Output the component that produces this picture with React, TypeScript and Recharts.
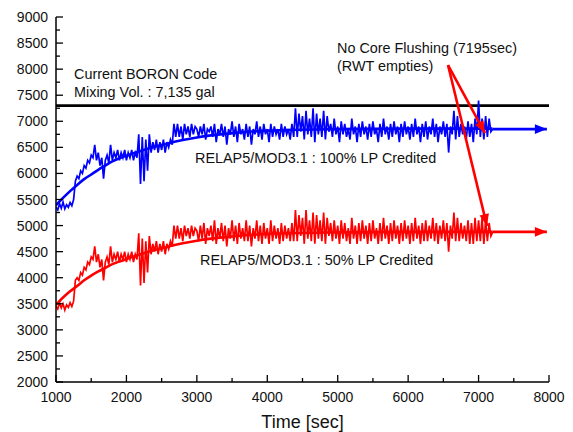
import React from 'react';
import { LineChart, Line, XAxis, YAxis, ReferenceLine, ReferenceDot } from 'recharts';

const T0 = 1000;
const DT = 25;

const blueNoisy = [
  5350, 5300, 5420, 5330, 5450, 5320, 5400, 5350, 5440, 5380,
  5500, 5850, 5950, 5900, 6050, 6000, 6150, 6100, 6250, 6200,
  6350, 6300, 6550, 6250, 6400, 6150, 6300, 5900, 6250, 6350,
  6200, 6550, 6250, 6400, 6300, 6450, 6250, 6400, 6300, 6450,
  6250, 6400, 6300, 6450, 6250, 6400, 6300, 6750, 5800, 6700,
  5850, 6650, 6050, 6750, 6400, 6600, 6450, 6650, 6400, 6600,
  6450, 6650, 6400, 6600, 6500, 6650, 6550, 6950, 6700, 6950,
  6700, 6900, 6650, 6950, 6750, 6900, 6700, 6950, 6750, 6900,
  6850, 6700, 6900, 6750,
  6950, 6650, 6850, 6800,
  6900, 6700, 6950, 6600,
  6850, 6750, 6950, 6700,
  6900, 6550, 6850, 6750,
  7000, 6700, 6900, 6600,
  6950, 6750, 6850, 6650,
  6950, 6700, 6900, 6550,
  6850, 6750, 7000, 6700,
  6900, 6650, 6950, 6750,
  6850, 6600, 6950, 6700,
  6900, 6750, 6850, 6650,
  6950, 6700, 6900, 6750,
  6850, 6650, 6950, 6700,
  7250, 6700, 7150, 6800,
  7100, 6650, 7200, 6750,
  7050, 6700, 7250, 6600,
  7150, 6750, 7050, 6700,
  7200, 6650, 7100, 6800,
  6950, 6700, 7050, 6750,
  6900, 6600, 7000, 6750,
  6950, 6700, 6850, 6650,
  7050, 6750, 6900, 6600,
  6950, 6700, 7000, 6750,
  6900, 6650, 6950, 6700,
  7000, 6750, 6850, 6600,
  6950, 6700, 7050, 6750,
  6900, 6650, 6950, 6700,
  7000, 6750, 6900, 6600,
  6950, 6700, 7000, 6750,
  6900, 6650, 6950, 6700,
  7050, 6750, 6900, 6600,
  6950, 6700, 7000, 6650,
  6900, 6750, 7050, 6700,
  6950, 6600, 6900, 6750,
  7000, 6700, 6950, 6400,
  6900, 6750, 7200, 6650,
  7100, 6700, 6950, 6750,
  6900, 6650, 7000, 6700,
  6950, 6600, 7050, 6750,
  7400, 6700, 7050, 6650,
  7100, 6700, 7050, 6800,
  6850,
];

const redNoisy = [
  3450, 3400, 3520, 3420, 3500, 3380, 3480, 3430, 3520, 3450,
  3550, 3950, 4000, 3950, 4100, 4050, 4200, 4150, 4300, 4250,
  4400, 4350, 4600, 4300, 4450, 4200, 4350, 3950, 4300, 4400,
  4250, 4600, 4300, 4450, 4350, 4500, 4300, 4450, 4350, 4500,
  4300, 4450, 4350, 4500, 4300, 4450, 4350, 4850, 3850, 4750,
  3900, 4700, 4100, 4800, 4450, 4650, 4500, 4700, 4450, 4650,
  4500, 4700, 4450, 4650, 4550, 4700, 4600, 5000, 4750, 5000,
  4750, 4950, 4700, 5000, 4800, 4950, 4750, 5000, 4800, 4950,
  4900, 4700, 5000, 4750,
  5050, 4650, 4950, 4800,
  5000, 4700, 5100, 4650,
  4950, 4750, 5050, 4700,
  5000, 4600, 4950, 4750,
  5100, 4700, 5000, 4650,
  5050, 4750, 4950, 4700,
  5100, 4700, 5000, 4600,
  4950, 4750, 5100, 4700,
  5000, 4650, 5050, 4750,
  4950, 4650, 5100, 4700,
  5000, 4750, 4950, 4650,
  5050, 4700, 5000, 4750,
  4950, 4700, 5050, 4700,
  5300, 4700, 5200, 4800,
  5150, 4650, 5300, 4750,
  5100, 4700, 5250, 4650,
  5200, 4750, 5100, 4700,
  5250, 4650, 5150, 4800,
  5050, 4700, 5100, 4750,
  5000, 4650, 5100, 4750,
  5050, 4700, 4950, 4650,
  5150, 4750, 5000, 4650,
  5050, 4700, 5100, 4750,
  5000, 4650, 5050, 4700,
  5100, 4750, 4950, 4650,
  5050, 4700, 5150, 4750,
  5000, 4650, 5050, 4700,
  5100, 4750, 5000, 4650,
  5050, 4700, 5100, 4750,
  5000, 4650, 5050, 4700,
  5150, 4750, 5000, 4650,
  5050, 4700, 5100, 4700,
  5000, 4750, 5150, 4700,
  5050, 4650, 5000, 4750,
  5100, 4700, 5050, 4500,
  5000, 4750, 5250, 4700,
  5150, 4700, 5050, 4750,
  5000, 4700, 5100, 4650,
  5050, 4650, 5150, 4700,
  5100, 4700, 5150, 4650,
  5100, 4700, 5050, 4800,
  4880,
];

const fitTimes = [1000, 1100, 1200, 1300, 1400, 1500, 1600, 1700, 1800, 1900, 2000, 2200, 2400, 2600, 2800, 3000, 3500, 4000, 5000, 6000, 7195];
const blueFit = [5390, 5530, 5660, 5780, 5890, 5980, 6070, 6150, 6230, 6290, 6340, 6430, 6510, 6580, 6640, 6690, 6770, 6820, 6850, 6860, 6860];
const redFit = [3480, 3620, 3740, 3840, 3950, 4040, 4120, 4190, 4260, 4310, 4360, 4450, 4530, 4600, 4660, 4710, 4790, 4840, 4870, 4880, 4880];

const blueArrowX = [7195, 7970];
const blueArrowY = [6850, 6850];
const redArrowX = [7195, 7970];
const redArrowY = [4880, 4880];
const callout1X = [6566, 7091];
const callout1Y = [8079, 6775];
const callout2X = [6566, 7120];
const callout2Y = [8079, 4990];

const boronLimit = 7300;

const xTicks = [1000, 1500, 2000, 2500, 3000, 3500, 4000, 4500, 5000, 5500, 6000, 6500, 7000, 7500, 8000];
const yTicks = [2000, 2250, 2500, 2750, 3000, 3250, 3500, 3750, 4000, 4250, 4500, 4750, 5000, 5250, 5500, 5750, 6000, 6250, 6500, 6750, 7000, 7250, 7500, 7750, 8000, 8250, 8500, 8750, 9000];

const annotations = [
  { x: 1256, y: 7806, text: 'Current BORON Code' },
  { x: 1256, y: 7464, text: 'Mixing Vol. : 7,135 gal' },
  { x: 4990, y: 8310, text: 'No Core Flushing (7195sec)' },
  { x: 4990, y: 7970, text: '(RWT empties)' },
  { x: 2974, y: 6200, text: 'RELAP5/MOD3.1 : 100% LP Credited' },
  { x: 3045, y: 4253, text: 'RELAP5/MOD3.1 : 50% LP Credited' },
];

const toXY = (xs: number[], ys: number[]) => xs.map((x, i) => ({ x, y: ys[i] }));
const blueData = blueNoisy.map((y, i) => ({ x: T0 + i * DT, y }));
const redData = redNoisy.map((y, i) => ({ x: T0 + i * DT, y }));
const blueFitData = toXY(fitTimes, blueFit);
const redFitData = toXY(fitTimes, redFit);

const FONT = '"Liberation Sans", Arial, Helvetica, sans-serif';
const TXT = '#111';

const arrowDot = (color: string) => (p: any) => {
  const pts = p.points || [];
  if (!pts.length || p.index !== pts.length - 1) return <g key={`d${p.index}`} />;
  const a = pts[0];
  const b = pts[pts.length - 1];
  const ang = (Math.atan2(b.y - a.y, b.x - a.x) * 180) / Math.PI;
  return (
    <g key={`d${p.index}`} transform={`translate(${p.cx},${p.cy}) rotate(${ang})`}>
      <polygon points="0,0 -12,-4.8 -12,4.8" fill={color} stroke="none" />
    </g>
  );
};

const leftTick = (p: any) => {
  const v = p.payload.value;
  const major = v % 500 === 0;
  return (
    <g>
      <line x1={p.x} x2={p.x + (major ? 7 : 4)} y1={p.y} y2={p.y} stroke="#000" strokeWidth={1.3} />
      {major && (
        <text x={p.x - 8} y={p.y + 5} textAnchor="end" fontSize={14} fontFamily={FONT} fill={TXT}>
          {v}
        </text>
      )}
    </g>
  );
};

const rightTick = (p: any) => {
  const v = p.payload.value;
  const major = v % 500 === 0;
  return <line x1={p.x} x2={p.x - (major ? 7 : 4)} y1={p.y} y2={p.y} stroke="#000" strokeWidth={1.3} />;
};

const bottomTick = (p: any) => {
  const v = p.payload.value;
  const major = v % 1000 === 0;
  return (
    <g>
      <line x1={p.x} x2={p.x} y1={p.y} y2={p.y - (major ? 7 : 4)} stroke="#000" strokeWidth={1.3} />
      {major && (
        <text x={p.x} y={p.y + 20} textAnchor="middle" fontSize={14} fontFamily={FONT} fill={TXT}>
          {v}
        </text>
      )}
    </g>
  );
};

const topTick = (p: any) => {
  const v = p.payload.value;
  const major = v % 1000 === 0;
  return <line x1={p.x} x2={p.x} y1={p.y} y2={p.y + (major ? 7 : 4)} stroke="#000" strokeWidth={1.3} />;
};

const textShape = (t: string) => (p: any) => (
  <text x={p.cx} y={p.cy} fontSize={14.4} fontFamily={FONT} fill={TXT}>
    {t}
  </text>
);

export default function App() {
  const axisLine = { stroke: '#000', strokeWidth: 1.5 };
  return (
    <div style={{ position: 'absolute', left: 0, top: 0, background: '#fff' }}>
      <LineChart width={573} height={432} margin={{ top: 17, right: 24, bottom: 0, left: 0 }}>
        <XAxis
          dataKey="x"
          type="number"
          domain={[1000, 8000]}
          ticks={xTicks}
          interval={0}
          tick={bottomTick}
          tickLine={false}
          tickSize={0}
          tickMargin={0}
          axisLine={axisLine}
          height={50}
          allowDataOverflow
          label={{ value: 'Time [sec]', position: 'insideBottom', offset: 4.5, style: { fontSize: 18, fontFamily: FONT, fill: TXT } }}
        />
        <XAxis
          xAxisId="top"
          orientation="top"
          dataKey="x"
          type="number"
          domain={[1000, 8000]}
          ticks={xTicks}
          interval={0}
          tick={topTick}
          tickLine={false}
          tickSize={0}
          tickMargin={0}
          axisLine={axisLine}
          height={0}
          allowDataOverflow
        />
        <YAxis
          type="number"
          domain={[2000, 9000]}
          ticks={yTicks}
          interval={0}
          tick={leftTick}
          tickLine={false}
          tickSize={0}
          tickMargin={0}
          axisLine={axisLine}
          width={56}
          allowDataOverflow
        />
        <YAxis
          yAxisId="right"
          orientation="right"
          type="number"
          domain={[2000, 9000]}
          ticks={yTicks}
          interval={0}
          tick={rightTick}
          tickLine={false}
          tickSize={0}
          tickMargin={0}
          axisLine={axisLine}
          width={0}
          allowDataOverflow
        />
        <ReferenceLine y={boronLimit} stroke="#000" strokeWidth={2.6} />
        <Line data={blueData} dataKey="y" type="linear" stroke="#0000ff" strokeWidth={1.7} dot={false} isAnimationActive={false} />
        <Line data={redData} dataKey="y" type="linear" stroke="#ff0000" strokeWidth={1.7} dot={false} isAnimationActive={false} />
        <Line data={blueFitData} dataKey="y" type="monotone" stroke="#0000ff" strokeWidth={2.6} dot={false} isAnimationActive={false} />
        <Line data={redFitData} dataKey="y" type="monotone" stroke="#ff0000" strokeWidth={2.6} dot={false} isAnimationActive={false} />
        <Line data={toXY(blueArrowX, blueArrowY)} dataKey="y" type="linear" stroke="#0000ff" strokeWidth={2.6} dot={arrowDot('#0000ff')} isAnimationActive={false} />
        <Line data={toXY(redArrowX, redArrowY)} dataKey="y" type="linear" stroke="#ff0000" strokeWidth={2.6} dot={arrowDot('#ff0000')} isAnimationActive={false} />
        <Line data={toXY(callout1X, callout1Y)} dataKey="y" type="linear" stroke="#ff0000" strokeWidth={2.6} dot={arrowDot('#ff0000')} isAnimationActive={false} />
        <Line data={toXY(callout2X, callout2Y)} dataKey="y" type="linear" stroke="#ff0000" strokeWidth={2.6} dot={arrowDot('#ff0000')} isAnimationActive={false} />
        {annotations.map((a, i) => (
          <ReferenceDot key={i} x={a.x} y={a.y} r={0} ifOverflow="visible" shape={textShape(a.text)} />
        ))}
      </LineChart>
    </div>
  );
}
